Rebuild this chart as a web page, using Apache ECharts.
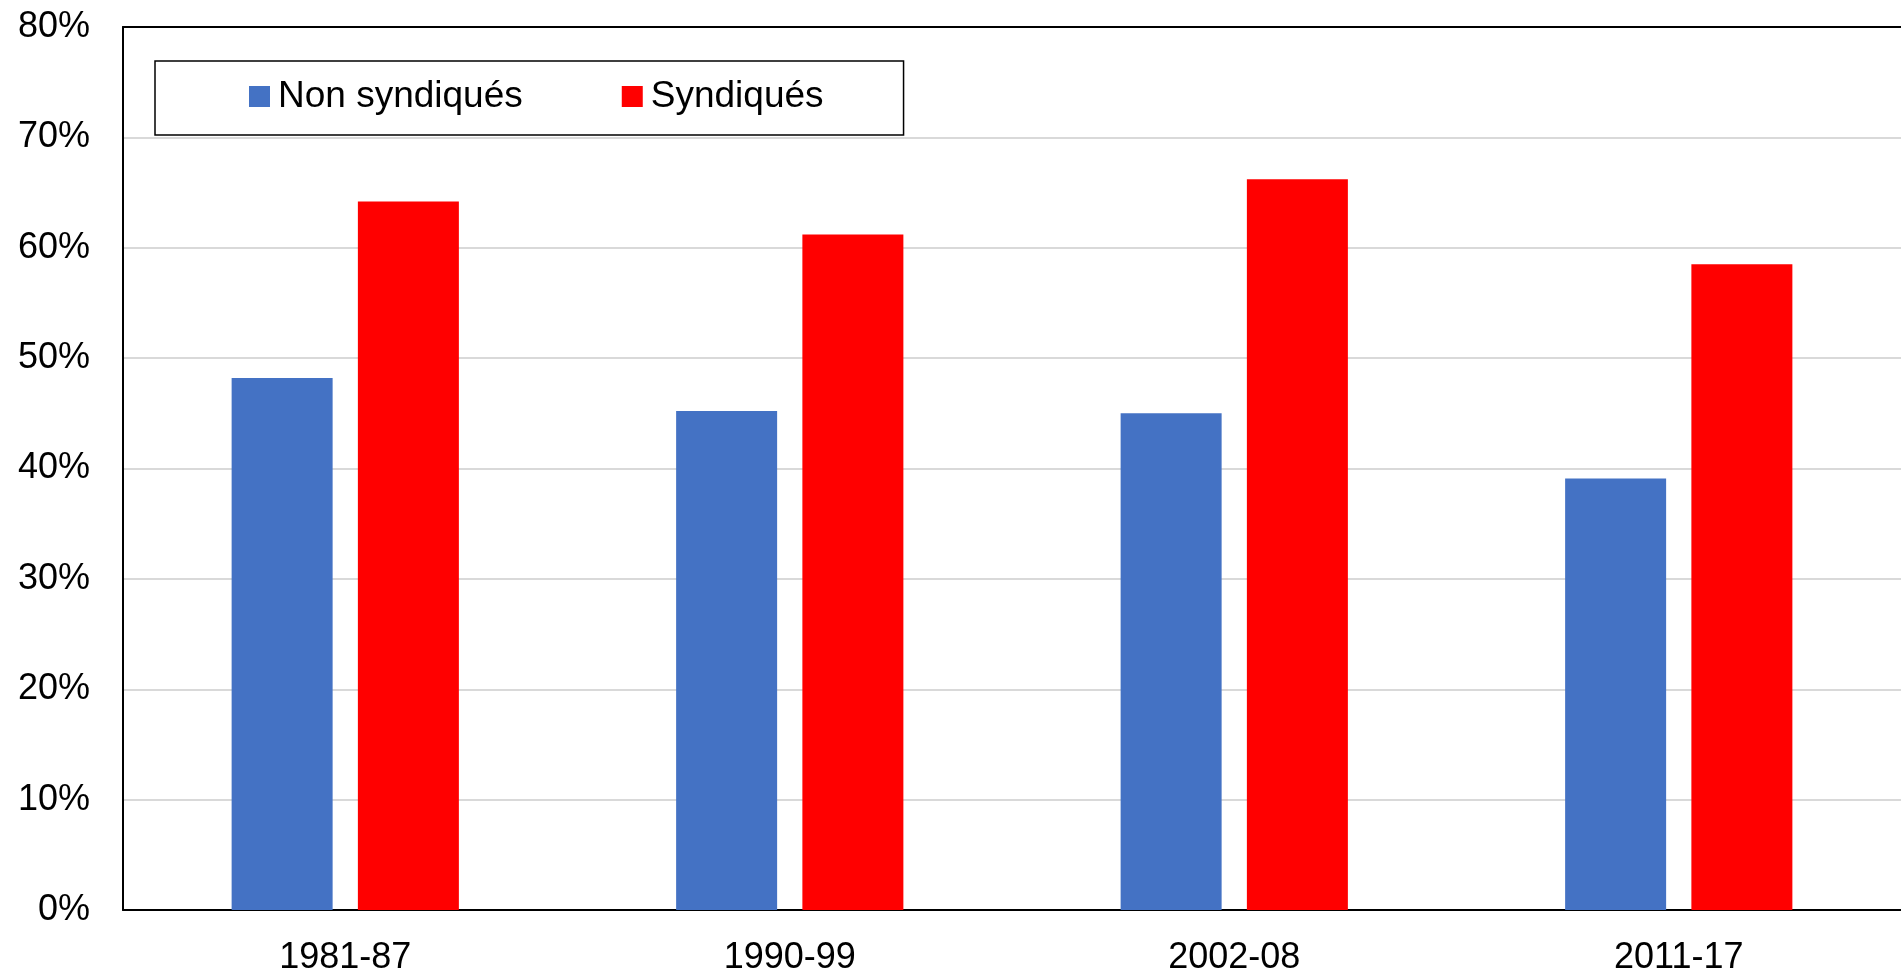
<!DOCTYPE html>
<html>
<head>
<meta charset="utf-8">
<script src="https://cdn.jsdelivr.net/npm/echarts@6/dist/echarts.min.js"></script>
<style>
  html, body { margin: 0; padding: 0; background: #fff; }
  #chart { width: 1901px; height: 973px; }
</style>
</head>
<body>
<div id="chart"></div>
<script>
// periodes et parts (%)
var periodes = ['1981-87', '1990-99', '2002-08', '2011-17'];
var nonSyndiques = [48.2, 45.2, 45.0, 39.1];
var syndiques = [64.2, 61.2, 66.2, 58.5];
var yTicks = [0, 10, 20, 30, 40, 50, 60, 70, 80];

var font = 'Liberation Sans, Arial, sans-serif';

var myChart = echarts.init(document.getElementById('chart'));

var option = {
    animation: false,
    textStyle: { fontFamily: font },
    grid: { left: 123, right: 0, top: 27, bottom: 63, containLabel: false, outerBoundsMode: 'none' },
    legend: {
        left: 155,
        top: 61,
        orient: 'horizontal',
        data: ['Non syndiqués', 'Syndiqués'],
        backgroundColor: '#fff',
        borderColor: '#000',
        borderWidth: 1.5,
        padding: [13, 80, 16, 94],
        itemWidth: 21,
        itemHeight: 21,
        itemGap: 99,
        icon: 'rect',
        textStyle: {
            fontSize: 37,
            color: '#000',
            fontFamily: font,
            lineHeight: 40,
            padding: [5, 0, 0, 3]
        }
    },
    xAxis: [
        {
            type: 'category',
            data: periodes,
            axisLine: { lineStyle: { color: '#000', width: 2 } },
            axisTick: { show: false },
            axisLabel: { fontSize: 36, color: '#000', margin: 30, fontFamily: font }
        },
        {
            // bord superieur du cadre
            type: 'category',
            position: 'top',
            data: periodes,
            axisLine: { lineStyle: { color: '#000', width: 2 } },
            axisTick: { show: false },
            axisLabel: { show: false }
        }
    ],
    yAxis: {
        type: 'value',
        min: yTicks[0],
        max: yTicks[yTicks.length - 1],
        interval: 10,
        axisLine: { show: true, lineStyle: { color: '#000', width: 2 } },
        axisTick: { show: false },
        axisLabel: {
            fontSize: 36,
            color: '#000',
            margin: 33,
            fontFamily: font,
            formatter: '{value}%'
        },
        splitLine: { lineStyle: { color: '#d9d9d9', width: 2 } }
    },
    series: [
        {
            name: 'Non syndiqués',
            type: 'bar',
            data: nonSyndiques,
            barWidth: 101,
            barGap: '25%',
            itemStyle: { color: '#4472C4' }
        },
        {
            name: 'Syndiqués',
            type: 'bar',
            data: syndiques,
            barWidth: 101,
            barGap: '25%',
            itemStyle: { color: '#FF0000' }
        }
    ]
};

myChart.setOption(option);
</script>
</body>
</html>
